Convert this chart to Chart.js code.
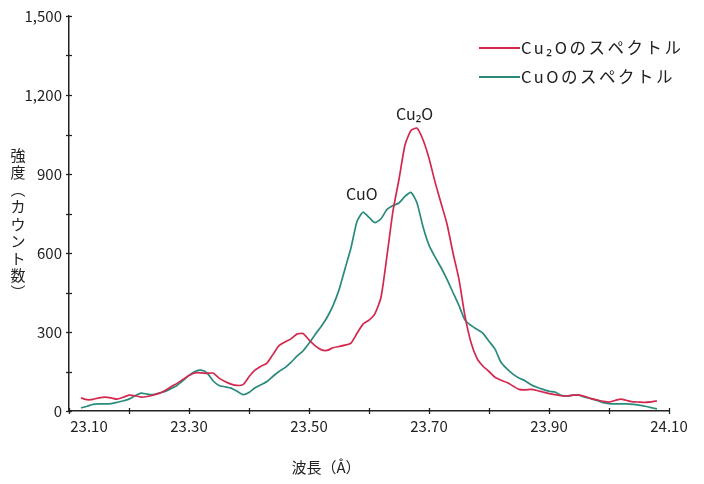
<!DOCTYPE html>
<html>
<head>
<meta charset="utf-8">
<script src="https://cdn.jsdelivr.net/npm/chart.js@4.4.0/dist/chart.umd.min.js"></script>
<style>
  html, body { margin: 0; padding: 0; background: #fff; }
  #wrap { width: 704px; height: 484px; }
</style>
</head>
<body>
<div id="wrap"><canvas id="spectrum"></canvas></div>
<script>
// wavelength (Å) sampled every 0.01
const wavelengths = [
  23.12, 23.13, 23.14, 23.15, 23.16, 23.17, 23.18, 23.19, 23.20, 23.21,
  23.22, 23.23, 23.24, 23.25, 23.26, 23.27, 23.28, 23.29, 23.30, 23.31,
  23.32, 23.33, 23.34, 23.35, 23.36, 23.37, 23.38, 23.39, 23.40, 23.41,
  23.42, 23.43, 23.44, 23.45, 23.46, 23.47, 23.48, 23.49, 23.50, 23.51,
  23.52, 23.53, 23.54, 23.55, 23.56, 23.57, 23.58, 23.59, 23.60, 23.61,
  23.62, 23.63, 23.64, 23.65, 23.66, 23.67, 23.68, 23.69, 23.70, 23.71,
  23.72, 23.73, 23.74, 23.75, 23.76, 23.77, 23.78, 23.79, 23.80, 23.81,
  23.82, 23.83, 23.84, 23.85, 23.86, 23.87, 23.88, 23.89, 23.90, 23.91,
  23.92, 23.93, 23.94, 23.95, 23.96, 23.97, 23.98, 23.99, 24.00, 24.01,
  24.02, 24.03, 24.04, 24.05, 24.06, 24.07, 24.08
];
// Cu2O spectrum (counts)
const cu2oCounts = [
  50, 43, 44, 50, 53, 50, 45, 52, 60, 58,
  53, 55, 60, 67, 78, 92, 105, 120, 135, 145,
  145, 143, 144, 125, 112, 102, 97, 100, 130, 155,
  170, 182, 215, 248, 262, 274, 292, 294, 270, 248,
  233, 230, 240, 245, 250, 258, 295, 330, 345, 370,
  432, 590, 760, 880, 1010, 1065, 1074, 1030, 960, 870,
  790, 710, 600, 500, 360, 260, 200, 170, 150, 128,
  117, 108, 95, 82, 80, 82, 78, 72, 66, 62,
  58, 57, 60, 60, 55, 47, 42, 37, 34, 40,
  45, 40, 35, 34, 33, 35, 38
];
// CuO spectrum (counts)
const cuoCounts = [
  12, 18, 25, 27, 27, 28, 33, 38, 45, 58,
  68, 64, 62, 68, 74, 85, 97, 115, 135, 150,
  155, 145, 115, 97, 92, 87, 75, 62, 70, 88,
  100, 112, 132, 150, 165, 185, 208, 228, 257, 290,
  320, 355, 400, 460, 540, 620, 720, 755, 735, 715,
  730, 765, 780, 790, 815, 830, 790, 700, 630, 585,
  545, 500, 450, 400, 345, 325, 310, 295, 265, 235,
  185, 160, 140, 125, 115, 100, 90, 82, 75, 72,
  60, 57, 60, 60, 52, 47, 40, 32, 28, 27,
  27, 27, 25, 22, 18, 13, 8
];
const seriesNames = ['Cu₂Oのスペクトル', 'CuOのスペクトル'];
const peakNames = ['Cu₂O', 'CuO'];
const xTickLabels = [23.10, 23.30, 23.50, 23.70, 23.90, 24.10];
const yTickLabels = [0, 300, 600, 900, 1200, 1500];
const xTitle = '波長（Å）';
const yTitle = ['強', '度', '︵', 'カ', 'ウ', 'ン', 'ト', '数', '︶'];

const RED = '#d3284e';
const GREEN = '#2a8a7c';
const INK = '#222';
const FONT = '"Noto Sans CJK JP", "Noto Sans", sans-serif';

const toPoints = arr => arr.map((v, i) => ({ x: wavelengths[i], y: v }));

const decor = {
  id: 'decor',
  afterDraw(chart) {
    const ctx = chart.ctx;
    const xs = chart.scales.x, ys = chart.scales.y;
    const area = chart.chartArea;
    ctx.save();

    // ticks crossing the axes
    ctx.strokeStyle = INK;
    ctx.lineWidth = 1.3;
    xs.ticks.forEach(t => {
      const px = Math.round(xs.getPixelForValue(t.value)) + 0.5;
      ctx.beginPath();
      ctx.moveTo(px, area.bottom - 3);
      ctx.lineTo(px, area.bottom + 3);
      ctx.stroke();
    });
    ys.ticks.forEach(t => {
      const py = Math.round(ys.getPixelForValue(t.value)) + 0.5;
      ctx.beginPath();
      ctx.moveTo(area.left - 3, py);
      ctx.lineTo(area.left + 3, py);
      ctx.stroke();
    });

    // x tick labels
    ctx.fillStyle = INK;
    ctx.font = '15px ' + FONT;
    ctx.textAlign = 'center';
    ctx.textBaseline = 'middle';
    xTickLabels.forEach((v, i) => {
      let px = xs.getPixelForValue(v);
      if (i === 0) px += 20;
      ctx.fillText(v.toFixed(2), px, area.bottom + 15);
    });

    // axis titles
    ctx.font = '15px ' + FONT;
    ctx.fillText(xTitle, 326, 467);
    yTitle.forEach((ch, i) => {
      ctx.fillText(ch, 18, 155 + i * 17.2);
    });

    // peak labels
    ctx.font = '16px ' + FONT;
    ctx.fillText(peakNames[0], xs.getPixelForValue(23.676), ys.getPixelForValue(1130));
    ctx.fillText(peakNames[1], xs.getPixelForValue(23.588), ys.getPixelForValue(826));

    // legend
    const rows = [[seriesNames[0], RED, 48], [seriesNames[1], GREEN, 77]];
    ctx.textAlign = 'left';
    ctx.font = '16.5px ' + FONT;
    ctx.letterSpacing = '2.5px';
    rows.forEach(([name, col, y]) => {
      ctx.strokeStyle = col;
      ctx.lineWidth = 2;
      ctx.beginPath();
      ctx.moveTo(479, y);
      ctx.lineTo(520, y);
      ctx.stroke();
      ctx.fillStyle = INK;
      ctx.fillText(name, 521, y);
    });
    ctx.restore();
  }
};

new Chart(document.getElementById('spectrum'), {
  type: 'line',
  data: {
    datasets: [
      { label: seriesNames[0], data: toPoints(cu2oCounts), borderColor: RED, borderWidth: 1.7, pointRadius: 0, tension: 0.2, fill: false },
      { label: seriesNames[1], data: toPoints(cuoCounts), borderColor: GREEN, borderWidth: 1.7, pointRadius: 0, tension: 0.2, fill: false }
    ]
  },
  options: {
    responsive: true,
    maintainAspectRatio: false,
    animation: false,
    layout: { padding: { top: 15, right: 35, left: 0, bottom: 0 } },
    plugins: { legend: { display: false }, tooltip: { enabled: false } },
    scales: {
      x: {
        type: 'linear',
        min: 23.1,
        max: 24.1,
        afterFit: s => { s.height = 73; },
        ticks: { stepSize: 0.1, display: false },
        grid: { drawOnChartArea: false, drawTicks: false },
        border: { color: INK, width: 1.5 }
      },
      y: {
        min: 0,
        max: 1500,
        afterFit: s => { s.width = 69; },
        ticks: {
          stepSize: 150,
          padding: 7,
          color: INK,
          font: { size: 15, family: FONT },
          callback: v => yTickLabels.includes(v) ? v.toLocaleString('en-US') : ''
        },
        grid: { drawOnChartArea: false, drawTicks: false },
        border: { color: INK, width: 1.5 }
      }
    }
  },
  plugins: [decor]
});
</script>
</body>
</html>
